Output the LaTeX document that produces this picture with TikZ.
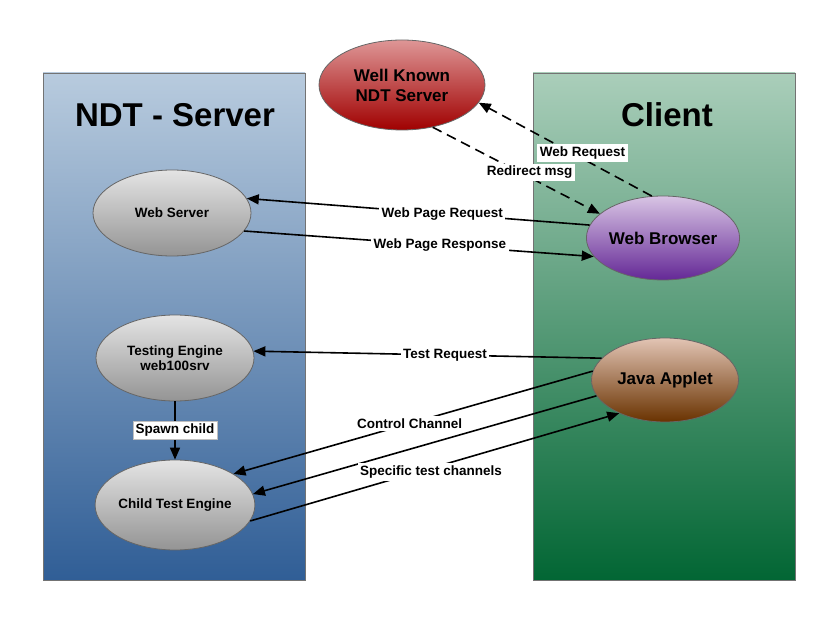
\documentclass[tikz,border=0pt]{standalone}
\usepackage{fontspec}
\setmainfont{Liberation Sans}
\usepackage{xcolor}
\usetikzlibrary{arrows.meta}
\usetikzlibrary{shapes.geometric, positioning}

\definecolor{srvtop}{RGB}{184,203,222}
\definecolor{srvbot}{RGB}{48,94,150}
\definecolor{clitop}{RGB}{170,206,186}
\definecolor{clibot}{RGB}{2,102,52}
\definecolor{proctop}{RGB}{228,228,228}
\definecolor{procbot}{RGB}{148,148,148}
\definecolor{wktop}{RGB}{222,150,150}
\definecolor{wkbot}{RGB}{160,0,0}
\definecolor{brtop}{RGB}{216,196,228}
\definecolor{brbot}{RGB}{100,40,150}
\definecolor{jatop}{RGB}{226,196,180}
\definecolor{jabot}{RGB}{105,50,0}

\tikzset{
    sidebox/.style={draw=black!55, line width=0.8pt},
    proc/.style={ellipse, draw=black!60, line width=0.8pt,
        top color=proctop, bottom color=procbot,
        minimum width=158pt, minimum height=86pt, inner sep=0pt, align=center,
        font=\fontsize{13.5}{15}\selectfont\bfseries},
    bigproc/.style={proc, font=\fontsize{17}{20}\selectfont\bfseries},
    msg/.style={-{Triangle[length=12pt,width=10pt]}, line width=1.6pt},
    dmsg/.style={msg, dash pattern=on 10pt off 6pt},
    lbl/.style={fill=white, inner sep=2.5pt, font=\fontsize{13.5}{15}\selectfont\bfseries},
    boxtitle/.style={font=\fontsize{33}{36}\selectfont\bfseries}
}

\begin{document}
\begin{tikzpicture}[x=1pt, y=-1pt]
    \useasboundingbox (0,0) rectangle (839,636);

    % the two sides
    \path[sidebox, top color=srvtop, bottom color=srvbot] (43,73) rectangle (305,580);
    \path[sidebox, top color=clitop, bottom color=clibot] (533,73) rectangle (795,580);
    \node[boxtitle] (srvtitle) at (175,115) {NDT - Server};
    \node[boxtitle] (clititle) at (667,115) {Client};

    % processes
    \node[bigproc, top color=wktop, bottom color=wkbot, minimum width=166pt, minimum height=90pt]
        (wellknown) at (402,85) {Well Known\\NDT Server};
    \node[proc] (websrv) at (172,213) {Web Server};
    \node[proc] (testeng) at (175,358) {Testing Engine\\web100srv};
    \node[proc, minimum width=156pt, minimum height=90pt] (childeng) at (175,505) {Child Test Engine};
    \node[bigproc, top color=brtop, bottom color=brbot, minimum width=146pt, minimum height=84pt]
        (browser) at (663,238) {Web Browser};
    \node[bigproc, top color=jatop, bottom color=jabot, minimum width=147pt, minimum height=84pt]
        (applet) at (665,380) {Java Applet};

    % messages
    \draw[dmsg] (browser.105) -- node[lbl, pos=.4, yshift=6pt] (lwebreq) {Web Request} (wellknown.-13);
    \draw[dmsg] (wellknown.-54) -- node[lbl, pos=.58, yshift=5pt] (lredir) {Redirect msg} (browser.159);
    \draw[msg] (browser.170) -- node[lbl, pos=.43] (lpagereq) {Web Page Request} (websrv.11);
    \draw[msg] (websrv.-14) -- node[lbl, pos=.56] (lpageresp) {Web Page Response} (browser.195);
    \draw[msg] (applet.161) -- node[lbl, pos=.45] (ltestreq) {Test Request} (testeng.5);
    \draw[msg] (applet.173) -- node[lbl, pos=.51] (lctrl) {Control Channel} (childeng.28);
    \draw[msg] (applet.193) -- (childeng.8);
    \draw[msg] (childeng.-12) -- node[lbl, pos=.49, yshift=-4pt] (lspec) {Specific test channels} (applet.216);
    \draw[msg] (testeng.south) -- node[lbl, draw=black!25, line width=0.5pt] (lspawn) {Spawn child} (childeng.north);
\end{tikzpicture}
\end{document}
